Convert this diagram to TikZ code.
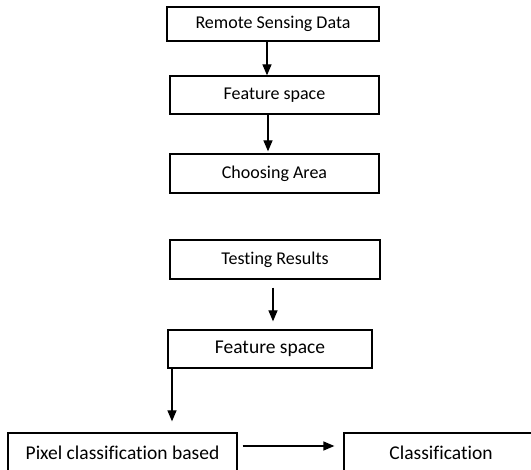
\documentclass[tikz,border=0pt]{standalone}
\usepackage{fontspec}
\setmainfont[Ligatures=NoCommon]{Carlito}
\usetikzlibrary{arrows.meta}

\begin{document}
\begin{tikzpicture}[x=1pt, y=-1pt]
    \tikzstyle{block} = [rectangle, draw=black, line width=1.3pt, inner sep=0pt, align=center, font=\fontsize{18}{21}\selectfont]
    \tikzstyle{bigblock} = [block, font=\fontsize{19.5}{22}\selectfont]
    \tikzstyle{arrow} = [-{Triangle[length=11pt, width=9pt]}, line width=1.3pt]
    \useasboundingbox (0,0) rectangle (531,470);
    \clip (0,0) rectangle (531,470);
    \node[block, minimum width=212pt, minimum height=34pt] (data) at (273, 24) {Remote Sensing Data};
    \node[block, minimum width=209pt, minimum height=38pt] (feat) at (274.5, 95) {Feature space};
    \node[block, minimum width=209pt, minimum height=39pt] (area) at (274.5, 173.5) {Choosing Area};
    \node[block, minimum width=210pt, minimum height=39pt] (test) at (275, 259.5) {Testing Results};
    \node[bigblock, minimum width=204pt, minimum height=38pt] (feattwo) at (270, 349) {Feature space};
    \node[bigblock, minimum width=229pt, minimum height=40pt] (pixel) at (122.5, 453) {Pixel classification based};
    \node[bigblock, minimum width=194pt, minimum height=40pt] (class) at (441, 453) {Classification};
    \draw[arrow] ([xshift=-6pt]data.south) -- ([xshift=-7.5pt]feat.north);
    \draw[arrow, shorten >=2pt] ([xshift=-6.5pt]feat.south) -- ([xshift=-6.5pt]area.north);
    \draw[arrow, shorten <=8pt, shorten >=8pt] ([xshift=-2pt]test.south) -- ([xshift=3pt]feattwo.north);
    \draw[arrow, shorten >=11pt] ([xshift=-98pt]feattwo.south) -- ([xshift=49.5pt]pixel.north);
    \draw[arrow, shorten <=5pt, shorten >=9pt] ([yshift=7pt]pixel.east) -- ([yshift=7pt]class.west);
\end{tikzpicture}
\end{document}
